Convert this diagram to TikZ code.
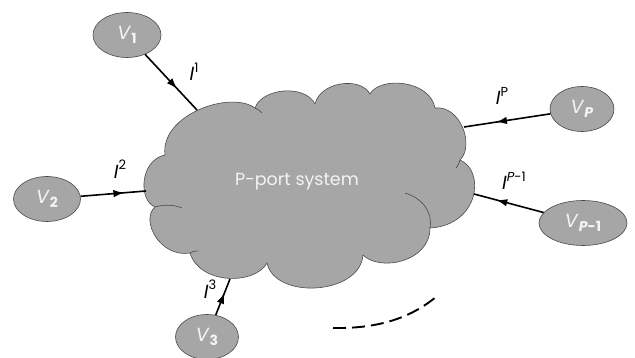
\documentclass[tikz,border=0pt]{standalone}
\usepackage{fontspec}
\setmainfont{Poppins}
\usetikzlibrary{arrows.meta,decorations.markings,shapes.geometric}
\definecolor{fillg}{HTML}{A6A6A6}
\definecolor{edgeg}{HTML}{4A4A4A}
\definecolor{lbl}{HTML}{F4F4F4}
\newcommand{\bigsub}[1]{\raisebox{-0.25em}{\fontsize{14}{14}\selectfont #1}}
\newcommand{\bigsup}[1]{\raisebox{0.45em}{\fontsize{13}{13}\selectfont #1}}
\tikzset{
  port/.style={ellipse, fill=fillg, draw=edgeg, line width=0.6pt, inner sep=0pt,
    minimum height=45pt, text=lbl, font=\fontsize{19}{19}\selectfont},
  midarrow/.style={postaction={decorate, decoration={markings,
    mark=at position #1 with {\arrow{Latex[length=11pt,width=7.5pt]}}}}},
  curr/.style={line width=1.6pt, draw=black},
  ilabel/.style={font=\fontsize{19}{19}\selectfont, inner sep=0pt, text=black},
  cloudedge/.style={draw=edgeg, line width=0.6pt},
}
\begin{document}
\begin{tikzpicture}[x=1pt,y=-1pt]
\useasboundingbox (0,0) rectangle (635,358);
% cloud outline
\coordinate (J1) at (165,155);
\coordinate (J2) at (255,108);
\coordinate (J3) at (315,104);
\coordinate (J4) at (370,94);
\coordinate (J5) at (435,108);
\coordinate (J6) at (460,160);
\coordinate (J7) at (430,228);
\coordinate (J8) at (363,255);
\coordinate (J9) at (267,263);
\coordinate (J10) at (190,253);
\coordinate (J11) at (155,207);
\path[fill=fillg, cloudedge] (J11)
  .. controls (138,200) and (140,160) .. (J1)
  .. controls (160,115) and (230,90) .. (J2)
  .. controls (262,88) and (305,84) .. (J3)
  .. controls (320,82) and (360,76) .. (J4)
  .. controls (380,76) and (430,80) .. (J5)
  .. controls (460,105) and (475,145) .. (J6)
  .. controls (485,170) and (480,225) .. (J7)
  .. controls (430,262) and (380,272) .. (J8)
  .. controls (360,295) and (275,300) .. (J9)
  .. controls (255,285) and (200,285) .. (J10)
  .. controls (160,258) and (140,220) .. cycle;
% inner puff lines
\coordinate (n1) at (262,113);
\coordinate (n2) at (182,208);
\coordinate (n3) at (405,193);
\coordinate (n4) at (198,251);
\coordinate (n5) at (456,168);
\draw[cloudedge] (J2) .. controls (258,109) and (260,111) .. (n1);
\draw[cloudedge] (J11) .. controls (165,204) and (175,205) .. (n2);
\draw[cloudedge] (J7) .. controls (433,212) and (422,198) .. (n3);
\draw[cloudedge] (J10) .. controls (193,251) and (196,251) .. (n4);
\draw[cloudedge] (J6) .. controls (459,163) and (458,166) .. (n5);
\node[text=lbl, font=\fontsize{17.5}{17.5}\selectfont, inner sep=0pt] (syslabel) at (297,182) {P-port system};
% ports
\node[port, minimum width=68pt] (V1) at (127,35) {\textit{V}\bigsub{\textbf{1}}};
\node[port, minimum width=67pt] (V2) at (47,199) {\textit{V}\bigsub{\textbf{2}}};
\node[port, minimum width=63pt] (V3) at (207,337) {\textit{V}\bigsub{\textbf{3}}};
\node[port, minimum width=64pt] (VP) at (582,109) {\textit{V}\bigsub{\textbf{\textit{P}}}};
\node[port, minimum width=88pt] (VP1) at (583,223) {\textit{V}\bigsub{\textbf{\textit{P}-1}}};
% cloud attachment points
\coordinate (c1) at (197,110);
\coordinate (c2) at (146,191);
\coordinate (c3) at (230,279);
\coordinate (cP) at (464,127);
\coordinate (cP1) at (474,194);
% currents
\draw[curr, midarrow=0.62] (V1) -- (c1);
\draw[curr, midarrow=0.67] (V2) -- (c2);
\draw[curr, midarrow=0.62] (V3) -- (c3);
\draw[curr, midarrow=0.63] (VP) -- (cP);
\draw[curr, midarrow=0.68] (VP1) -- (cP1);
% labels
\node[ilabel] (I1) at (194,72) {\textit{I}\bigsup{1}};
\node[ilabel] (I2) at (120,169) {\textit{I}\bigsup{2}};
\node[ilabel] (I3) at (210,289) {\textit{I}\bigsup{3}};
\node[ilabel] (IP) at (502,96) {\textit{I}\bigsup{P}};
\node[ilabel] (IP1) at (514,181) {\textit{I}\bigsup{\textit{P}-1}};
% dashed continuation
\coordinate (d1) at (333,328);
\coordinate (d2) at (436,297);
\draw[line width=1.9pt, dash pattern=on 13pt off 6pt] (d1) .. controls (385,329) and (415,314) .. (d2);
\end{tikzpicture}
\end{document}
